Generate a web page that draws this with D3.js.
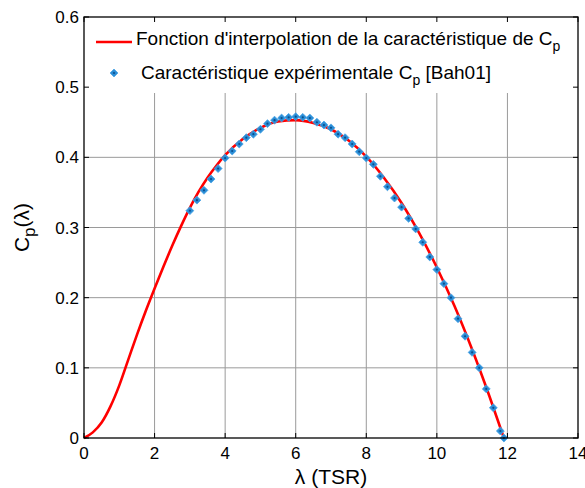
<!DOCTYPE html>
<html>
<head>
<meta charset="utf-8">
<script src="https://cdn.jsdelivr.net/npm/d3@7"></script>
<style>
  body { margin: 0; background: #fff; }
  text { font-family: "Liberation Sans", Arial, sans-serif; fill: #000; }
</style>
</head>
<body>
<div id="chart"></div>
<script>
// courbe d'interpolation (lecture sur la figure)
const fitLambda = [0, 0.25, 0.5, 0.75, 1.0, 1.25, 1.5, 1.75, 2.0, 2.25, 2.5, 2.75, 3.0, 3.25, 3.5, 3.75,
    4.0, 4.5, 5.0, 5.5, 6.0, 6.5, 7.0, 7.5, 8.0, 8.5, 9.0, 9.5, 10.0, 10.5, 11.0, 11.5, 11.9];
const fitCp = [0, 0.008, 0.022, 0.045, 0.075, 0.111, 0.147, 0.181, 0.213, 0.244, 0.274, 0.302, 0.328, 0.351, 0.371, 0.388,
    0.403, 0.426, 0.442, 0.451, 0.453, 0.449, 0.440, 0.424, 0.401, 0.371, 0.335, 0.292, 0.243, 0.188, 0.126, 0.058, 0.0];

// points expérimentaux [Bah01]
const expLambda = [3.0, 3.2, 3.4, 3.6, 3.8, 4.0, 4.2, 4.4, 4.6, 4.8, 5.0, 5.2, 5.4, 5.6, 5.8, 6.0, 6.2, 6.4, 6.6, 6.8,
    7.0, 7.2, 7.4, 7.6, 7.8, 8.0, 8.2, 8.4, 8.6, 8.8, 9.0, 9.2, 9.4, 9.6, 9.8, 10.0, 10.2, 10.4, 10.6, 10.8,
    11.0, 11.2, 11.4, 11.6, 11.8, 11.9];
const expCp = [0.324, 0.339, 0.353, 0.369, 0.384, 0.399, 0.409, 0.419, 0.428, 0.433, 0.440, 0.448, 0.453, 0.456, 0.457, 0.458, 0.457, 0.456, 0.450, 0.446,
    0.442, 0.433, 0.428, 0.419, 0.408, 0.399, 0.390, 0.373, 0.358, 0.342, 0.329, 0.313, 0.298, 0.279, 0.258, 0.240, 0.220, 0.200, 0.170, 0.145,
    0.122, 0.100, 0.070, 0.043, 0.010, 0.0];

const xTicks = [0, 2, 4, 6, 8, 10, 12, 14];
const yTicks = [0, 0.1, 0.2, 0.3, 0.4, 0.5, 0.6];

const width = 585, height = 488;
const margin = { left: 84, right: 7, top: 17, bottom: 50 };
const innerW = width - margin.left - margin.right;
const innerH = height - margin.top - margin.bottom;

const svg = d3.select('#chart').append('svg')
    .attr('width', width)
    .attr('height', height);

const g = svg.append('g')
    .attr('transform', `translate(${margin.left},${margin.top})`);

const x = d3.scaleLinear().domain([0, 14]).range([0, innerW]);
const y = d3.scaleLinear().domain([0, 0.6]).range([innerH, 0]);

// grille
g.append('g').selectAll('line')
    .data(xTicks.slice(1, -1))
    .join('line')
    .attr('x1', d => x(d)).attr('x2', d => x(d))
    .attr('y1', 0).attr('y2', innerH)
    .attr('stroke', '#9a9a9a').attr('stroke-width', 1);
g.append('g').selectAll('line')
    .data(yTicks.slice(1, -1))
    .join('line')
    .attr('x1', 0).attr('x2', innerW)
    .attr('y1', d => y(d)).attr('y2', d => y(d))
    .attr('stroke', '#9a9a9a').attr('stroke-width', 1);

// fond blanc de la légende (cache la grille)
g.append('rect')
    .attr('x', 0).attr('y', 0)
    .attr('width', innerW).attr('height', 76)
    .attr('fill', '#fff');

// courbe rouge
const line = d3.line()
    .x((d, i) => x(fitLambda[i]))
    .y(d => y(d))
    .curve(d3.curveMonotoneX);
g.append('path')
    .datum(fitCp)
    .attr('d', line)
    .attr('fill', 'none')
    .attr('stroke', '#ff0000')
    .attr('stroke-width', 2.6);

// marqueurs losanges
const diamond = d3.symbol().type(d3.symbolDiamond2).size(40);
const pts = g.append('g').selectAll('g')
    .data(expCp)
    .join('g')
    .attr('transform', (d, i) => `translate(${x(expLambda[i])},${y(d)})`);
pts.append('path').attr('d', diamond).attr('fill', '#2b8ed6').attr('stroke', '#4aa3e6').attr('stroke-width', 0.8);
pts.append('circle').attr('r', 1.1).attr('fill', '#0b4f8f');

// cadre et graduations
const axisG = g.append('g');
axisG.append('rect')
    .attr('x', 0).attr('y', 0)
    .attr('width', innerW).attr('height', innerH)
    .attr('fill', 'none').attr('stroke', '#000').attr('stroke-width', 1.3);

const tk = 5;
xTicks.forEach(t => {
    axisG.append('line').attr('x1', x(t)).attr('x2', x(t)).attr('y1', innerH).attr('y2', innerH - tk).attr('stroke', '#000');
    axisG.append('line').attr('x1', x(t)).attr('x2', x(t)).attr('y1', 0).attr('y2', tk).attr('stroke', '#000');
});
yTicks.forEach(t => {
    axisG.append('line').attr('x1', 0).attr('x2', tk).attr('y1', y(t)).attr('y2', y(t)).attr('stroke', '#000');
    axisG.append('line').attr('x1', innerW).attr('x2', innerW - tk).attr('y1', y(t)).attr('y2', y(t)).attr('stroke', '#000');
});

axisG.selectAll('.xlab')
    .data(xTicks)
    .join('text')
    .attr('class', 'xlab')
    .attr('x', d => x(d))
    .attr('y', innerH + 21)
    .attr('text-anchor', 'middle')
    .attr('font-size', 17)
    .text(d => d);

axisG.selectAll('.ylab')
    .data(yTicks)
    .join('text')
    .attr('class', 'ylab')
    .attr('x', -5)
    .attr('y', d => y(d) + 6)
    .attr('text-anchor', 'end')
    .attr('font-size', 17)
    .text(d => d === 0 ? '0' : d.toFixed(1));

// titres des axes
svg.append('text')
    .attr('x', margin.left + innerW / 2)
    .attr('y', 484)
    .attr('text-anchor', 'middle')
    .attr('font-size', 21)
    .text('λ (TSR)');

const yl = svg.append('text')
    .attr('transform', `translate(29,${margin.top + innerH / 2}) rotate(-90)`)
    .attr('text-anchor', 'middle')
    .attr('font-size', 21);
yl.append('tspan').text('C');
yl.append('tspan').attr('dy', 6).attr('font-size', 17).text('p');
yl.append('tspan').attr('dy', -6).text('(λ)');

// légende
const leg = g.append('g');
leg.append('line')
    .attr('x1', 12).attr('x2', 48)
    .attr('y1', 25).attr('y2', 25)
    .attr('stroke', '#ff0000').attr('stroke-width', 2.6);
const t1 = leg.append('text').attr('x', 52).attr('y', 28).attr('font-size', 19);
t1.append('tspan').text("Fonction d'interpolation de la caractéristique de C");
t1.append('tspan').attr('dy', 6).attr('font-size', 14).text('p');

const lm = leg.append('g').attr('transform', 'translate(30,56)');
lm.append('path').attr('d', diamond).attr('fill', '#2b8ed6').attr('stroke', '#4aa3e6').attr('stroke-width', 0.8);
lm.append('circle').attr('r', 1.1).attr('fill', '#0b4f8f');
const t2 = leg.append('text').attr('x', 57).attr('y', 62).attr('font-size', 19);
t2.append('tspan').text('Caractéristique expérimentale C');
t2.append('tspan').attr('dy', 6).attr('font-size', 14).text('p');
t2.append('tspan').attr('dy', -6).text(' [Bah01]');
</script>
</body>
</html>
